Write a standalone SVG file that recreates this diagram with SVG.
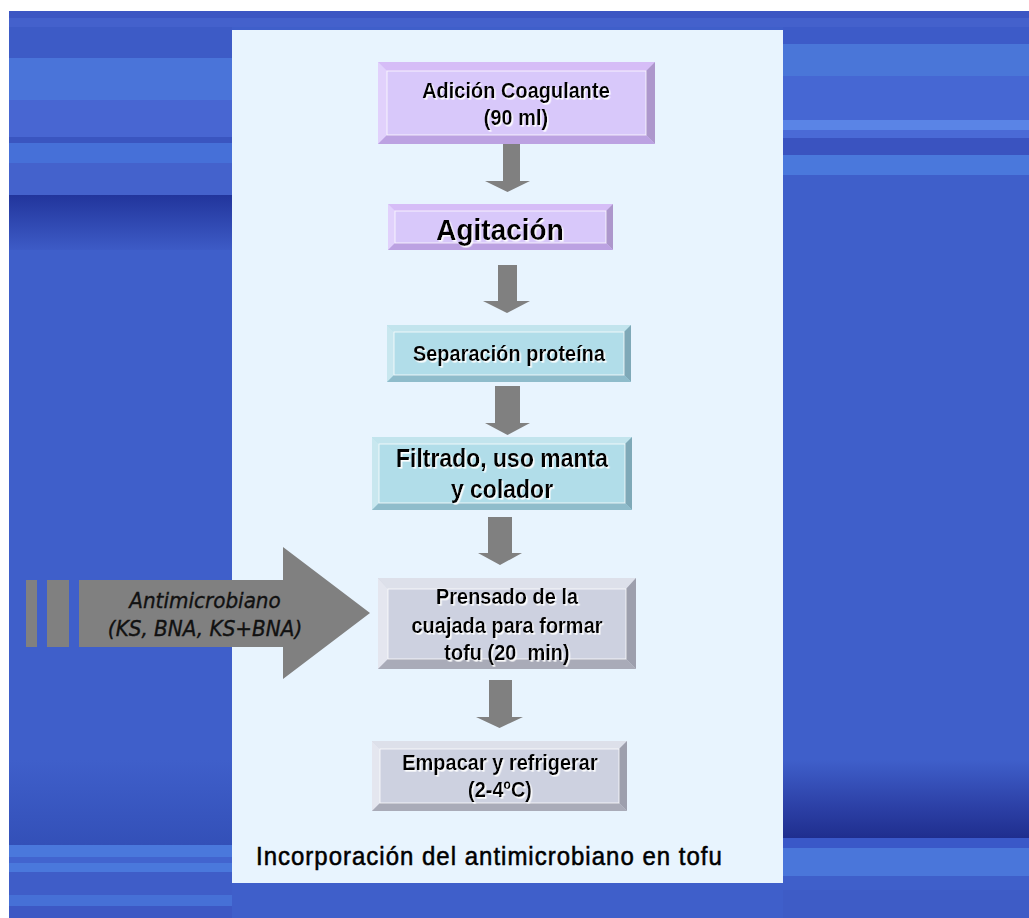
<svg xmlns="http://www.w3.org/2000/svg" width="1029" height="918" viewBox="0 0 1029 918">
<defs>
<style>
.t{font-family:"Liberation Sans",Arial,sans-serif;font-weight:bold;fill:#000;text-anchor:middle}
.pf{fill:#d8c8fa}.pt{fill:#d6bdf7}.pl{fill:#e1d1fc}.pr{fill:#ad97cc}.pb{fill:#bca2e2}
.cf{fill:#b1dde9}.ct{fill:#c2e4ed}.cl{fill:#c8e7ef}.cr{fill:#7fa9b8}.cb{fill:#8fbccb}
.gf{fill:#cdd1e0}.gt{fill:#dde0ea}.gl{fill:#e4e6ef}.gr{fill:#9d9fad}.gb{fill:#a9abb8}
.hl{fill:none;stroke:#ffffff;stroke-width:0.9;stroke-opacity:0.85}
.arr{fill:#808080}
.it{font-family:"DejaVu Sans",Verdana,sans-serif;font-style:italic;font-size:20px;fill:#111;stroke:#111;stroke-width:0.35;text-anchor:middle}
</style>
<filter id="sh" x="-5%" y="-20%" width="110%" height="140%">
<feDropShadow dx="1.5" dy="1.5" stdDeviation="0" flood-color="#ffffff" flood-opacity="0.95"/>
</filter>
<linearGradient id="dk1" x1="0" y1="0" x2="0" y2="1">
<stop offset="0" stop-color="#22359c"/><stop offset="1" stop-color="#3d5bc6"/>
</linearGradient>
<linearGradient id="dkL" x1="0" y1="0" x2="0" y2="1">
<stop offset="0" stop-color="#3f5fca"/><stop offset="1" stop-color="#3350b8"/>
</linearGradient>
<linearGradient id="dkR" x1="0" y1="0" x2="0" y2="1">
<stop offset="0" stop-color="#3f5fca"/><stop offset="0.6" stop-color="#2c40a6"/><stop offset="1" stop-color="#1f2e8e"/>
</linearGradient>
</defs>

<g id="background">
<rect x="9" y="11" width="1020" height="907" fill="#3f5fca"/>
<rect x="9" y="11" width="1020" height="7" fill="#3c56c3"/>
<rect x="9" y="18" width="1020" height="9" fill="#4461cc"/>
<rect x="9" y="27" width="223" height="31" fill="#3d5bc6"/>
<rect x="9" y="58" width="223" height="42" fill="#4a74d9"/>
<rect x="9" y="100" width="223" height="37" fill="#4866d2"/>
<rect x="9" y="137" width="223" height="6" fill="#3a55c0"/>
<rect x="9" y="143" width="223" height="20" fill="#4670d8"/>
<rect x="9" y="163" width="223" height="32" fill="#4462cc"/>
<rect x="9" y="195" width="223" height="55" fill="url(#dk1)"/>
<rect x="9" y="760" width="223" height="85" fill="url(#dkL)"/>
<rect x="9" y="845" width="223" height="12" fill="#4a78dc"/>
<rect x="9" y="857" width="223" height="6" fill="#4264cf"/>
<rect x="9" y="863" width="223" height="9" fill="#4a78dc"/>
<rect x="9" y="872" width="223" height="23" fill="#3f5dc8"/>
<rect x="9" y="895" width="223" height="11" fill="#4670d6"/>
<rect x="9" y="906" width="223" height="12" fill="#3d58c4"/>
<rect x="783" y="27" width="246" height="17" fill="#3d5bc8"/>
<rect x="783" y="44" width="246" height="32" fill="#4a76d8"/>
<rect x="783" y="76" width="246" height="44" fill="#4667d3"/>
<rect x="783" y="120" width="246" height="10" fill="#5a84e6"/>
<rect x="783" y="130" width="246" height="8" fill="#4a6ad6"/>
<rect x="783" y="138" width="246" height="17" fill="#3a53c0"/>
<rect x="783" y="155" width="246" height="20" fill="#4a78dc"/>
<rect x="783" y="760" width="246" height="78" fill="url(#dkR)"/>
<rect x="783" y="838" width="246" height="10" fill="#3a58c8"/>
<rect x="783" y="848" width="246" height="28" fill="#4a76da"/>
<rect x="783" y="876" width="246" height="14" fill="#3f5fca"/>
<rect x="783" y="890" width="246" height="28" fill="#3e5cc6"/>
</g>

<g id="panel">
<rect x="232" y="30" width="551" height="853" fill="#e8f4fe"/>
</g>

<g id="connectors">
<polygon class="arr" points="503,144 520,144 520,181 530,181 507.5,192 485,181 503,181"/>
<polygon class="arr" points="498,265 517,265 517,301 530,301 507,313 483,301 498,301"/>
<polygon class="arr" points="495,386 520,386 520,423 530,423 507.5,435 485,423 495,423"/>
<polygon class="arr" points="488,517 512,517 512,553 522,553 500,565 478,553 488,553"/>
<polygon class="arr" points="489,680 512,680 512,717 523,717 499.5,728 476,717 489,717"/>
<g id="input-arrow">
<rect class="arr" x="26" y="580" width="11" height="67"/>
<rect class="arr" x="47" y="580" width="22" height="67"/>
<polygon class="arr" points="79,580 283,580 283,547 370,613 283,679 283,647 79,647"/>
<text class="it" transform="translate(205,608) scale(1,1.08)">Antimicrobiano</text>
<text class="it" transform="translate(205,636) scale(1,1.08)">(KS, BNA, KS+BNA)</text>
</g>
</g>

<g id="node-adicion">
<rect class="pf" x="378" y="62" width="277" height="82"/>
<polygon class="pt" points="378,62 655,62 646,71 387,71"/>
<polygon class="pl" points="378,62 387,71 387,135 378,144"/>
<polygon class="pr" points="655,62 655,144 646,135 646,71"/>
<polygon class="pb" points="378,144 387,135 646,135 655,144"/>
<rect class="hl" x="387" y="71" width="259" height="64"/>
<text class="t" font-size="20" filter="url(#sh)" transform="translate(516,98) scale(1,1.12)">Adición Coagulante</text>
<text class="t" font-size="20" filter="url(#sh)" transform="translate(516,125) scale(1,1.12)">(90 ml)</text>
</g>

<g id="node-agitacion">
<rect class="pf" x="388" y="204" width="225" height="46"/>
<polygon class="pt" points="388,204 613,204 606,211 395,211"/>
<polygon class="pl" points="388,204 395,211 395,243 388,250"/>
<polygon class="pr" points="613,204 613,250 606,243 606,211"/>
<polygon class="pb" points="388,250 395,243 606,243 613,250"/>
<rect class="hl" x="395" y="211" width="211" height="32"/>
<text class="t" font-size="28" filter="url(#sh)" transform="translate(500,240) scale(1,1.08)">Agitación</text>
</g>

<g id="node-separacion">
<rect class="cf" x="387" y="325" width="244" height="57"/>
<polygon class="ct" points="387,325 631,325 624,332 394,332"/>
<polygon class="cl" points="387,325 394,332 394,375 387,382"/>
<polygon class="cr" points="631,325 631,382 624,375 624,332"/>
<polygon class="cb" points="387,382 394,375 624,375 631,382"/>
<rect class="hl" x="394" y="332" width="230" height="43"/>
<text class="t" font-size="20" filter="url(#sh)" transform="translate(509,361) scale(1,1.12)">Separación proteína</text>
</g>

<g id="node-filtrado">
<rect class="cf" x="372" y="437" width="260" height="73"/>
<polygon class="ct" points="372,437 632,437 625,444 379,444"/>
<polygon class="cl" points="372,437 379,444 379,503 372,510"/>
<polygon class="cr" points="632,437 632,510 625,503 625,444"/>
<polygon class="cb" points="372,510 379,503 625,503 632,510"/>
<rect class="hl" x="379" y="444" width="246" height="59"/>
<text class="t" font-size="23" filter="url(#sh)" transform="translate(502,467) scale(1,1.1)">Filtrado, uso manta</text>
<text class="t" font-size="23" filter="url(#sh)" transform="translate(502,498) scale(1,1.1)">y colador</text>
</g>

<g id="node-prensado">
<rect class="gf" x="378" y="578" width="258" height="91"/>
<polygon class="gt" points="378,578 636,578 626,589 388,589"/>
<polygon class="gl" points="378,578 388,589 388,659 378,669"/>
<polygon class="gr" points="636,578 636,669 626,659 626,589"/>
<polygon class="gb" points="378,669 388,659 626,659 636,669"/>
<rect class="hl" x="388" y="589" width="238" height="70"/>
<text class="t" font-size="20" filter="url(#sh)" transform="translate(507,604) scale(1,1.12)">Prensado de la</text>
<text class="t" font-size="20" filter="url(#sh)" transform="translate(507,633) scale(1,1.12)">cuajada para formar</text>
<text class="t" font-size="20" filter="url(#sh)" transform="translate(507,660) scale(1,1.12)" xml:space="preserve">tofu (20  min)</text>
</g>

<g id="node-empacar">
<rect class="gf" x="372" y="741" width="255" height="70"/>
<polygon class="gt" points="372,741 627,741 619,749 380,749"/>
<polygon class="gl" points="372,741 380,749 380,803 372,811"/>
<polygon class="gr" points="627,741 627,811 619,803 619,749"/>
<polygon class="gb" points="372,811 380,803 619,803 627,811"/>
<rect class="hl" x="380" y="749" width="239" height="54"/>
<text class="t" font-size="20" filter="url(#sh)" transform="translate(500,770) scale(1,1.12)">Empacar y refrigerar</text>
<text class="t" font-size="20" filter="url(#sh)" transform="translate(500,797) scale(1,1.12)">(2-4ºC)</text>
</g>

<g id="caption">
<text transform="translate(256,865) scale(1,1.08)" font-family="'Liberation Sans',Arial,sans-serif" font-size="24" letter-spacing="1" fill="#000" stroke="#000" stroke-width="0.5">Incorporación del antimicrobiano en tofu</text>
</g>
</svg>
